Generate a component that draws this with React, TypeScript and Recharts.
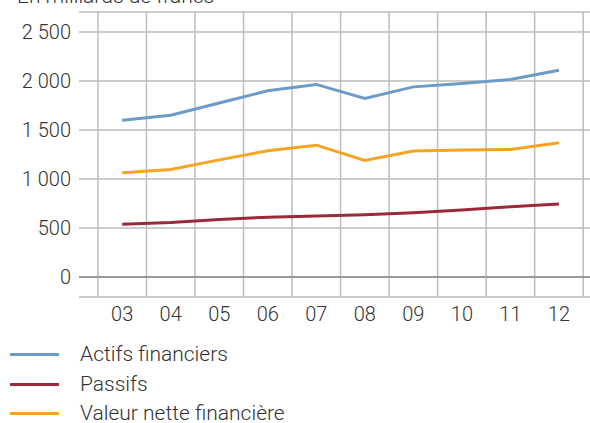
import React from 'react';
import { LineChart, Line, XAxis, YAxis, CartesianGrid, ReferenceLine } from 'recharts';

const years = ['03', '04', '05', '06', '07', '08', '09', '10', '11', '12'];
const actifs = [1600, 1650, 1775, 1900, 1965, 1822, 1940, 1975, 2015, 2110];
const passifs = [538, 556, 588, 610, 622, 636, 656, 684, 716, 745];
const valeurNette = [1064, 1098, 1195, 1289, 1345, 1190, 1285, 1295, 1302, 1370];
const yTicks = [0, 500, 1000, 1500, 2000, 2500];
const boundaries = [-0.5, 0.5, 1.5, 2.5, 3.5, 4.5, 5.5, 6.5, 7.5, 8.5, 9.5];

const series = [
  { key: 'actifs', name: 'Actifs financiers', color: '#6b9bc6' },
  { key: 'passifs', name: 'Passifs', color: '#9b2a3a' },
  { key: 'valeur', name: 'Valeur nette financière', color: '#f7a521' },
];

const data = years.map((y, i) => ({
  idx: i,
  label: y,
  actifs: actifs[i],
  passifs: passifs[i],
  valeur: valeurNette[i],
}));

const FONT = 'Roboto, "Liberation Sans", Arial, sans-serif';
const fmt = (v: number) => String(v).replace(/\B(?=(\d{3})+(?!\d))/g, ' ');

export default function App() {
  return (
    <div style={{ position: 'absolute', left: 0, top: 0, width: 590, height: 423, background: '#fff', fontFamily: FONT, overflow: 'hidden' }}>
      <svg width={590} height={20} style={{ position: 'absolute', left: 0, top: 0 }}>
        <text x={17} y={3} fontSize={21} fill="#333" fontFamily={FONT} fontWeight={300}>
          En milliards de francs
        </text>
      </svg>
      <LineChart width={590} height={423} data={data} margin={{ top: 12, right: 0, left: 0, bottom: 96 }}>
        <CartesianGrid vertical={false} stroke="#9a9a9a" strokeWidth={1} />
        {boundaries.map((b) => (
          <ReferenceLine key={b} x={b} stroke="#bdbdbd" strokeWidth={1.5} />
        ))}
        <ReferenceLine y={0} stroke="#999" strokeWidth={2.2} />
        <XAxis
          dataKey="idx"
          type="number"
          domain={[-0.89, 9.64]}
          ticks={years.map((_, i) => i)}
          tickFormatter={(v: number) => years[v]}
          axisLine={false}
          tickLine={false}
          tickSize={0}
          tickMargin={10}
          height={30}
          interval={0}
          allowDataOverflow
          tick={{ fontSize: 20, fill: '#333', fontFamily: FONT, fontWeight: 300 }}
        />
        <YAxis
          type="number"
          domain={[-204, 2704]}
          ticks={yTicks}
          tickFormatter={fmt}
          axisLine={false}
          tickLine={false}
          tickSize={0}
          tickMargin={8}
          width={79}
          interval={0}
          allowDataOverflow
          tick={{ fontSize: 20, fill: '#333', fontFamily: FONT, fontWeight: 300 }}
        />
        {series.map((s) => (
          <Line
            key={s.key}
            dataKey={s.key}
            name={s.name}
            stroke={s.color}
            strokeWidth={3}
            dot={false}
            activeDot={false}
            type="linear"
            isAnimationActive={false}
          />
        ))}
      </LineChart>
      <div style={{ position: 'absolute', left: 0, top: 340 }}>
        {series.map((s) => (
          <div key={s.key} style={{ display: 'flex', alignItems: 'center', height: 29.5 }}>
            <div style={{ marginLeft: 10, width: 49, height: 3, background: s.color }} />
            <div style={{ marginLeft: 21, fontSize: 21, color: '#333', fontWeight: 300, lineHeight: '21px' }}>{s.name}</div>
          </div>
        ))}
      </div>
    </div>
  );
}
